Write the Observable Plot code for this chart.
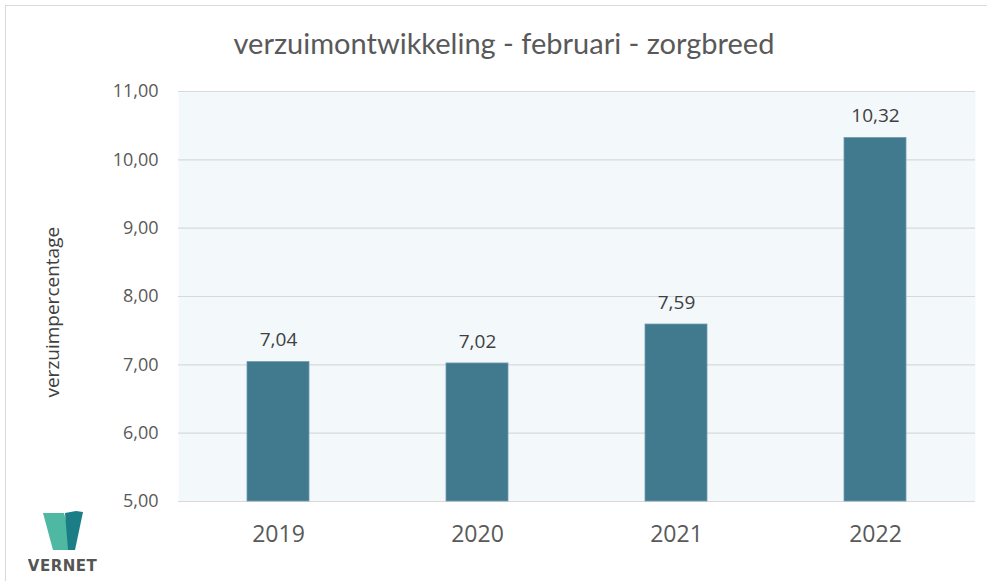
<!DOCTYPE html>
<html>
<head>
<meta charset="utf-8">
<script src="https://cdn.jsdelivr.net/npm/d3@7"></script>
<script src="https://cdn.jsdelivr.net/npm/@observablehq/plot@0.6"></script>
<style>
  body { margin: 0; background: #fff; }
  #wrap { position: relative; width: 987px; height: 581px; overflow: hidden; font-family: "Open Sans", sans-serif; }
  #border { position: absolute; left: 5px; top: 5px; width: 990px; height: 590px; border: 1px solid #d9d9d9; box-sizing: border-box; }
  #title { position: absolute; left: 0; width: 1008px; top: 25px; text-align: center; font-family: Lato, sans-serif; font-size: 29px; color: #595959; }
  #chart { position: absolute; left: 0; top: 0; }
  #logo { position: absolute; left: 28px; top: 508px; }
</style>
</head>
<body>
<div id="wrap">
  <div id="border"></div>
  <div id="chart"></div>
  <div id="title">verzuimontwikkeling - februari - zorgbreed</div>
  <svg id="logo" width="80" height="70" viewBox="0 0 80 70">
    <polygon points="15,5 36,5 46,42 25,42" fill="#4fb8a3"/>
    <polygon points="37,5 48,3 55,4 47,42 40,42" fill="#1b7e86"/>
    <text x="34.5" y="63" text-anchor="middle" font-family="DejaVu Sans, sans-serif" font-weight="bold" font-size="15" letter-spacing="0.5" fill="#555">VERNET</text>
  </svg>
</div>
<script>
const years = ["2019", "2020", "2021", "2022"];
const values = [7.04, 7.02, 7.59, 10.32];
const yTicks = [5, 6, 7, 8, 9, 10, 11];

const data = years.map((year, i) => ({year, value: values[i]}));
const fmt = v => d3.format(".2f")(v).replace(".", ",");

const chart = Plot.plot({
  width: 987,
  height: 581,
  marginLeft: 178,
  marginRight: 12,
  marginTop: 91,
  marginBottom: 80,
  style: {fontFamily: "'Open Sans', sans-serif", background: "transparent"},
  x: {domain: years, paddingInner: 0.69, paddingOuter: 0.345, label: null},
  y: {domain: [5, 11], label: null},
  marks: [
    Plot.frame({fill: "#f3f8fb", stroke: null}),
    Plot.gridY(yTicks, {stroke: "#d9d9d9", strokeOpacity: 1, strokeWidth: 1.2}),
    Plot.barY(data, {x: "year", y1: 5, y2: "value", fill: "#41798f", stroke: "#6f9cae", strokeWidth: 0.8}),
    Plot.text(data, {x: "year", y: "value", text: d => fmt(d.value), dy: -22, fontSize: 19, fill: "#404040", lineAnchor: "middle"}),
    Plot.axisY(yTicks, {tickSize: 0, tickPadding: 20, tickFormat: fmt, fontSize: 18, fill: "#595959", label: null}),
    Plot.axisX(years, {tickSize: 0, tickPadding: 24, fontSize: 23, fill: "#595959", label: null}),
    Plot.text(["verzuimpercentage"], {frameAnchor: "left", dx: -126, y: 7.77, rotate: -90, textAnchor: "middle", fontSize: 19, fill: "#404040"})
  ]
});
document.getElementById("chart").appendChild(chart);
</script>
</body>
</html>
